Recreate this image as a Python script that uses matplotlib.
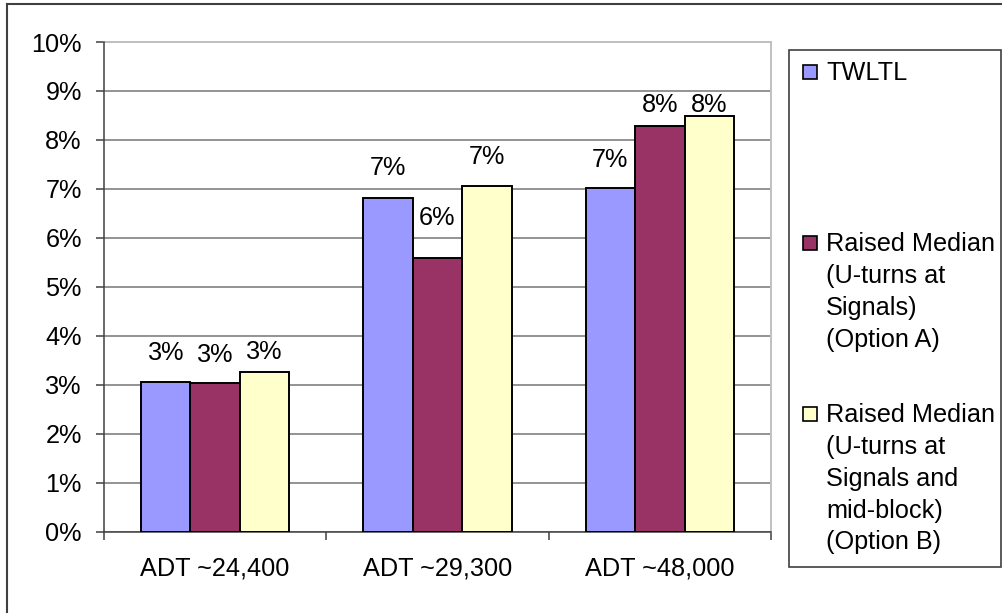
import matplotlib
matplotlib.use("Agg")
import matplotlib.pyplot as plt
from matplotlib.patches import Rectangle
from matplotlib.lines import Line2D
import numpy as np

categories = ["ADT ~24,400", "ADT ~29,300", "ADT ~48,000"]
series_names = ["TWLTL",
                "Raised Median\n(U-turns at\nSignals)\n(Option A)",
                "Raised Median\n(U-turns at\nSignals and\nmid-block)\n(Option B)"]
twltl = [3.06, 6.82, 7.02]
option_a = [3.03, 5.59, 8.29]
option_b = [3.27, 7.06, 8.49]
y_ticks = [0, 1, 2, 3, 4, 5, 6, 7, 8, 9, 10]

colors = ["#9999FF", "#993366", "#FFFFCC"]
label_offsets = [[29, 30, 28], [28, 40, 21], [20, 29, 11]]  # pixels above bar top

W, H = 1002, 613
FONT = "Liberation Sans"
FS = 18.2
plt.rcParams["font.family"] = [FONT, "DejaVu Sans"]

fig = plt.figure(figsize=(W / 100, H / 100), dpi=100)
ax = fig.add_axes([104 / W, 1 - 531.7 / H, (771 - 104) / W, (531.7 - 42) / H])

x = np.arange(len(categories))
bw = 1 / 4.5
all_series = [twltl, option_a, option_b]
for i, (vals, col) in enumerate(zip(all_series, colors)):
    bars = ax.bar(x + (i - 1) * bw, vals, bw, color=col, edgecolor="black",
                  linewidth=1.4, zorder=3)
    for b, v, off in zip(bars, vals, label_offsets[i]):
        ax.annotate(f"{v:.0f}%", (b.get_x() + b.get_width() / 2, v),
                    xytext=(0, off), textcoords="offset pixels",
                    ha="center", va="center", fontsize=FS, zorder=4)

ax.set_xlim(-0.5, 2.5)
ax.set_ylim(0, 10)
ax.set_yticks(y_ticks)
ax.set_yticklabels([f"{t}%" for t in y_ticks], fontsize=FS)
ax.yaxis.grid(True, color="#808080", linewidth=1.2, zorder=0)
ax.set_axisbelow(True)

ax.set_xticks(np.arange(-0.5, 3, 1.0))
ax.set_xticklabels([])
ax.set_xticks(x, minor=True)
ax.set_xticklabels(categories, minor=True, fontsize=FS)
ax.tick_params(axis="x", which="minor", length=0, pad=18)
ax.tick_params(axis="x", which="major", length=6, width=1.1, color="#404040")
ax.tick_params(axis="y", length=6, width=1.1, color="#404040", pad=10)

for s in ["left", "bottom"]:
    ax.spines[s].set_color("#404040")
    ax.spines[s].set_linewidth(1.1)
for s in ["top", "right"]:
    ax.spines[s].set_color("#C0C0C0")
    ax.spines[s].set_linewidth(1.4)
ax.spines["top"].set_zorder(1)

# outer chart border (left and top visible)
fig.add_artist(Line2D([7 / W, 7 / W], [0, 1 - 4 / H], transform=fig.transFigure,
                      color="#404040", linewidth=1.5))
fig.add_artist(Line2D([7 / W, 1], [1 - 4 / H, 1 - 4 / H], transform=fig.transFigure,
                      color="#404040", linewidth=1.5))

# legend box
fig.add_artist(Rectangle((789 / W, 1 - 567 / H), (1000.5 - 789) / W, (567 - 50) / H,
                         transform=fig.transFigure, facecolor="white",
                         edgecolor="#404040", linewidth=1.2))
first_line_y = [71, 242, 413]
line_step = 31.7
for name, col, y0 in zip(series_names, colors, first_line_y):
    fig.add_artist(Rectangle((803 / W, 1 - (y0 + 8) / H), 14 / W, 14 / H,
                             transform=fig.transFigure, facecolor=col,
                             edgecolor="black", linewidth=1.2))
    for k, line in enumerate(name.split("\n")):
        fig.text(826 / W, 1 - (y0 + k * line_step) / H, line, fontsize=FS,
                 ha="left", va="center_baseline")

fig.savefig("out.png", dpi=100)
